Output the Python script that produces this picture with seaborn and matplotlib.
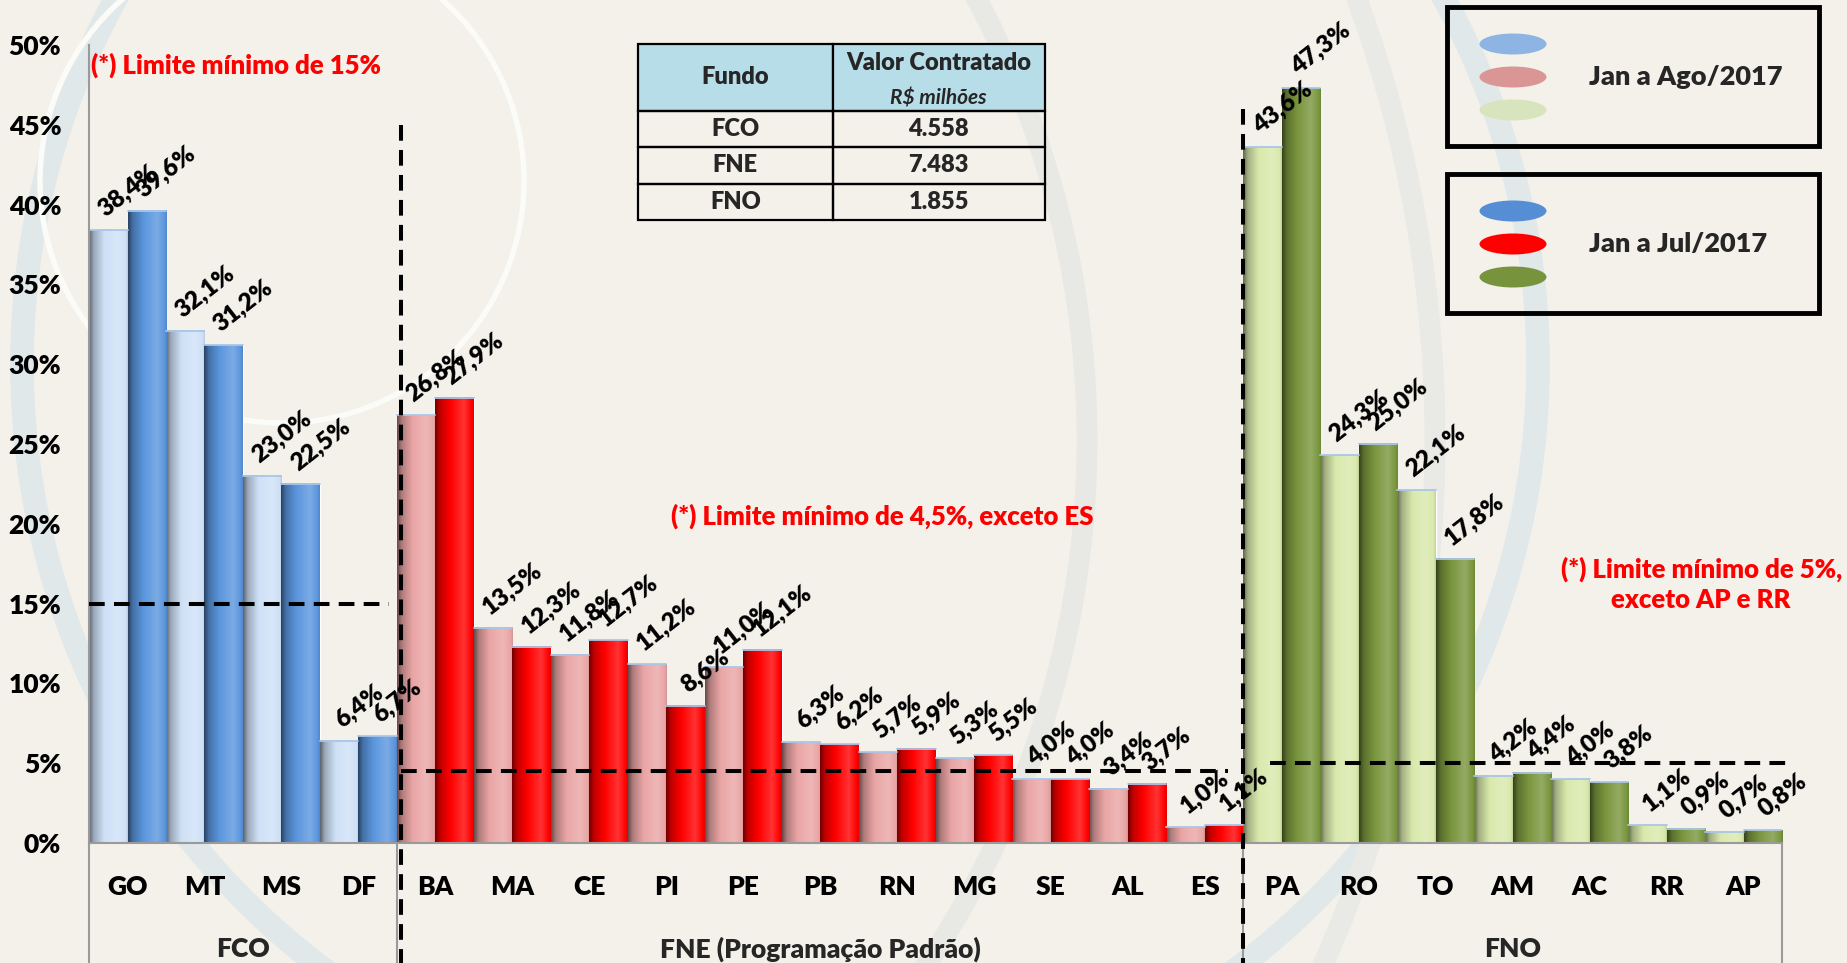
import numpy as np
import pandas as pd
import seaborn as sns
import matplotlib.pyplot as plt
from matplotlib.patches import Rectangle, Ellipse
from matplotlib.colors import to_rgb

# Participação (%) de cada UF no valor contratado do fundo
ufs_fco = ['GO', 'MT', 'MS', 'DF']
ago_fco = [38.4, 32.1, 23.0, 6.4]
jul_fco = [39.6, 31.2, 22.5, 6.7]

ufs_fne = ['BA', 'MA', 'CE', 'PI', 'PE', 'PB', 'RN', 'MG', 'SE', 'AL', 'ES']
ago_fne = [26.8, 13.5, 11.8, 11.2, 11.0, 6.3, 5.7, 5.3, 4.0, 3.4, 1.0]
jul_fne = [27.9, 12.3, 12.7, 8.6, 12.1, 6.2, 5.9, 5.5, 4.0, 3.7, 1.1]

ufs_fno = ['PA', 'RO', 'TO', 'AM', 'AC', 'RR', 'AP']
ago_fno = [43.6, 24.3, 22.1, 4.2, 4.0, 1.1, 0.7]
jul_fno = [47.3, 25.0, 17.8, 4.4, 3.8, 0.9, 0.8]

periodos = ['Jan a Ago/2017', 'Jan a Jul/2017']
fundos = ['FCO', 'FNE', 'FNO']
grupos = ['FCO', 'FNE (Programação Padrão)', 'FNO']
valores_contratados = ['4.558', '7.483', '1.855']
limites = [15, 4.5, 5]
notas = ['(*) Limite mínimo de 15%',
         '(*) Limite mínimo de 4,5%, exceto ES',
         '(*) Limite mínimo de 5%,\nexceto AP e RR']

cores_ago = ['#cfe1f7', '#eaa5a5', '#d9e9ac']
cores_jul = ['#5b96de', '#ff0000', '#7a963e']
cores_leg_ago = ['#8eb4e3', '#d99694', '#d7e4bd']
cores_leg_jul = ['#558ed5', '#ff0000', '#77933c']
FUNDO_COR = '#f3f1ea'
PESO = 'heavy'

# tabela longa para o seaborn
blocos = [(ufs_fco, ago_fco, jul_fco), (ufs_fne, ago_fne, jul_fne), (ufs_fno, ago_fno, jul_fno)]
linhas = []
for fundo, (ufs, ago, jul) in zip(fundos, blocos):
    for uf, a, j in zip(ufs, ago, jul):
        linhas.append((fundo, uf, periodos[0], a))
        linhas.append((fundo, uf, periodos[1], j))
df = pd.DataFrame(linhas, columns=['fundo', 'uf', 'periodo', 'valor'])
ordem = ufs_fco + ufs_fne + ufs_fno

sns.set_theme(style='white')
plt.rcParams['font.family'] = ['Lato', 'DejaVu Sans']

W, H = 1847, 963
fig = plt.figure(figsize=(W / 100, H / 100), dpi=100)
fig.patch.set_facecolor(FUNDO_COR)

# marca d'água (arcos claros do fundo)
def arco(cx, cy, r, cor, lw):
    fig.add_artist(Ellipse((cx / W, 1 - cy / H), 2 * r / W, 2 * r / H, transform=fig.transFigure,
                           fill=False, ec=cor, lw=lw, zorder=-5))

arco(780, 364, 758, '#e0e8ea', 17)
arco(150, 440, 937, '#e8e9e4', 15)
arco(150, 440, 1285, '#e9eae5', 15)
arco(282, 181, 242, '#fbfbf8', 4)

ax = fig.add_axes([0.0482, 0.1246, 0.9166, 0.8287])
ax.set_facecolor('none')

for i, fundo in enumerate(fundos):
    sns.barplot(data=df[df.fundo == fundo], x='uf', y='valor', hue='periodo',
                order=ordem, hue_order=periodos, palette=[cores_ago[i], cores_jul[i]],
                width=1.0, gap=0, errorbar=None, legend=False, saturation=1, ax=ax)

# efeito cilíndrico das barras
t = np.linspace(0, 1, 60)
f = np.interp(t, [0.0, 0.12, 0.4, 0.75, 0.95, 1.0], [0.45, 0.75, 1.0, 1.05, 1.0, 0.9])
for p in list(ax.patches):
    h = p.get_height()
    if not np.isfinite(h) or h <= 0:
        continue
    x0, w = p.get_x(), p.get_width()
    base = np.array(to_rgb(p.get_facecolor()))
    cols = np.where(f[:, None] <= 1, base[None, :] * f[:, None],
                    base[None, :] + (1 - base[None, :]) * (f[:, None] - 1) * 4)
    ax.imshow(np.clip(cols, 0, 1)[None, :, :], extent=(x0, x0 + w, 0, h),
              aspect='auto', interpolation='bilinear', zorder=p.get_zorder() + 0.1)
    ax.plot([x0, x0 + w], [h, h], color='#a9c6e8', lw=1.3, zorder=p.get_zorder() + 0.2)

fmt = lambda v: f'{v:.1f}%'.replace('.', ',')
for cont in ax.containers:
    for bar in cont:
        h = bar.get_height()
        if not np.isfinite(h):
            continue
        ax.annotate(fmt(h), (bar.get_x() + bar.get_width() / 2, h), xytext=(14, 7),
                    textcoords='offset points', ha='center', va='bottom', rotation=38,
                    fontsize=17.5, fontweight=PESO, color='black', zorder=5)

n = len(ordem)
ax.set_xlim(-0.5, n - 0.5)
ax.set_ylim(0, 50)
ax.set_yticks(range(0, 51, 5))
ax.set_yticklabels([f'{v}%' for v in range(0, 51, 5)])
ax.set_xticks(range(n))
ax.set_xticklabels(ordem)
ax.tick_params(axis='y', length=0, pad=20, labelsize=19)
ax.tick_params(axis='x', length=0, pad=23, labelsize=19)
for lab in ax.get_xticklabels() + ax.get_yticklabels():
    lab.set_fontweight(PESO)
    lab.set_color('black')
ax.set_xlabel('')
ax.set_ylabel('')
sns.despine(ax=ax)
for s in ['left', 'bottom']:
    ax.spines[s].set_color('#9a9a9a')
    ax.spines[s].set_linewidth(1.5)

# eixo de categorias agrupado
bordas = np.cumsum([0, len(ufs_fco), len(ufs_fne), len(ufs_fno)]) - 0.5
for xb in bordas:
    ax.plot([xb, xb], [0, -9], color='#9a9a9a', lw=1.5, clip_on=False, zorder=1)
for g, x0, x1 in zip(grupos, bordas[:-1], bordas[1:]):
    ax.text((x0 + x1) / 2, -6.65, g, ha='center', va='center', fontsize=19, fontweight=PESO)

# limites mínimos e separadores tracejados
traco = dict(color='black', lw=2.9, linestyle=(0, (3.9, 2.3)), clip_on=False, zorder=6)
ax.plot([bordas[0], bordas[1] - 0.1], [limites[0]] * 2, **traco)
ax.plot([bordas[1] + 0.06, bordas[2] - 0.2], [limites[1]] * 2, **traco)
ax.plot([bordas[2] + 0.35, bordas[3] + 0.1], [limites[2]] * 2, **traco)
ax.plot([bordas[1] + 0.06] * 2, [45, -9], **traco)
ax.plot([bordas[2]] * 2, [46, -9], **traco)

nota = dict(color='#ff0000', fontsize=18.5, fontweight=PESO, va='center')
ax.text(bordas[0] + 0.03, 48.7, notas[0], **nota)
ax.text(7.06, 20.5, notas[1], **nota)
ax.text(20.45, 16.2, notas[2], ha='center', linespacing=1.3, **nota)

# quadro com valores contratados
tax = fig.add_axes([638 / W, 1 - 220 / H, 407 / W, 176 / H])
tax.axis('off')
tab = tax.table(cellText=[[fu, v] for fu, v in zip(fundos, valores_contratados)],
                colLabels=['Fundo', ''], cellLoc='center', colWidths=[0.478, 0.522],
                bbox=[0, 0, 1, 1])
tab.auto_set_font_size(False)
for (r, c), cell in tab.get_celld().items():
    cell.set_linewidth(1.6)
    cell.set_edgecolor('black')
    cell.get_text().set_fontsize(17)
    cell.get_text().set_fontweight(PESO)
    if r == 0:
        cell.set_facecolor('#b7dde8')
        cell.set_height(0.38)
    else:
        cell.set_facecolor('none')
        cell.set_height(0.207)
tax.text(0.739, 0.89, 'Valor Contratado', ha='center', va='center', fontsize=17, fontweight=PESO)
tax.text(0.739, 0.69, 'R$ milhões', ha='center', va='center', fontsize=15,
         fontstyle='italic', fontweight='bold')

# legendas
for topo, cores, per in [(7, cores_leg_ago, periodos[0]), (174, cores_leg_jul, periodos[1])]:
    fig.add_artist(Rectangle((1447 / W, 1 - (topo + 139) / H), 372 / W, 139 / H,
                             transform=fig.transFigure, fill=False, lw=3.5, ec='black'))
    for k, cor in enumerate(cores):
        fig.add_artist(Ellipse((1513 / W, 1 - (topo + 37 + 33 * k) / H), 67 / W, 21 / H,
                               transform=fig.transFigure, color=cor, lw=0))
    fig.text(1589 / W, 1 - (topo + 70) / H, per, fontsize=19.5, fontweight=PESO, va='center')

fig.savefig('out.png', dpi=100, facecolor=FUNDO_COR)
